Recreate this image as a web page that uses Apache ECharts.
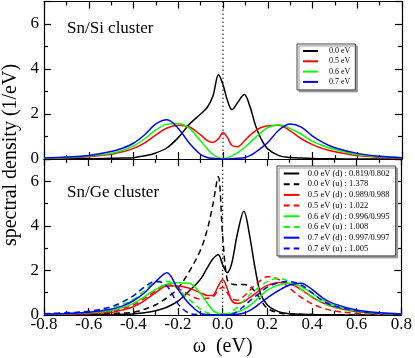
<!DOCTYPE html>
<html><head><meta charset="utf-8">
<script src="https://cdn.jsdelivr.net/npm/echarts@6/dist/echarts.min.js"></script>
<style>html,body{margin:0;padding:0;background:#fff}#c{width:415px;height:358px}</style>
</head><body><div id="c"></div>
<script>
// shared omega grid (eV)
const xs = [-0.8,-0.7,-0.6,-0.5,-0.45,-0.4,-0.35,-0.3,-0.25,-0.2,-0.15,-0.1,-0.07,-0.045,-0.02,0,0.02,0.04,0.065,0.095,0.12,0.145,0.17,0.2,0.25,0.3,0.35,0.4,0.45,0.5,0.6,0.7,0.8];

// Sn/Si cluster
const si00 = [0,0.01,0.01,0.03,0.04,0.06,0.14,0.27,0.5,0.95,1.55,2.0,2.3,2.8,3.75,3.3,2.6,2.2,2.5,2.87,2.35,1.5,0.9,0.45,0.15,0.07,0.04,0.02,0.01,0.01,0,0,0];
const si05 = [0.03,0.05,0.1,0.21,0.32,0.47,0.72,1.07,1.38,1.5,1.42,1.07,0.82,0.74,0.9,1.18,0.95,0.6,0.55,0.8,1.05,1.25,1.4,1.48,1.5,1.25,0.9,0.64,0.45,0.32,0.15,0.08,0.04];
const si06 = [0.04,0.07,0.13,0.25,0.38,0.58,0.9,1.29,1.55,1.58,1.36,0.8,0.45,0.2,0.06,0.02,0.05,0.14,0.28,0.5,0.72,0.95,1.18,1.4,1.52,1.35,1.1,0.78,0.58,0.42,0.2,0.1,0.05];
const si07 = [0.05,0.09,0.16,0.33,0.48,0.7,1.08,1.56,1.75,1.36,0.7,0.2,0.07,0.03,0.01,0,0,0.01,0.03,0.06,0.15,0.3,0.48,0.73,1.29,1.56,1.42,1.02,0.72,0.5,0.25,0.12,0.06];

// Sn/Ge cluster
const ge00d = [0,0.01,0.01,0.02,0.03,0.05,0.1,0.19,0.35,0.62,1.08,1.6,2.1,2.5,2.7,2.25,1.9,2.3,3.6,4.66,3.6,2.1,0.95,0.45,0.15,0.06,0.03,0.02,0.01,0.01,0,0,0];
const ge00u = [0.01,0.02,0.04,0.07,0.09,0.12,0.26,0.46,0.78,1.2,1.95,2.9,3.8,4.9,6.2,3.5,1.6,1.4,1.36,1.37,1.3,1.05,0.68,0.3,0.1,0.05,0.03,0.02,0.01,0.01,0,0,0];
const ge05d = [0.02,0.04,0.06,0.12,0.22,0.37,0.65,1.0,1.3,1.3,1.2,1.0,0.88,0.87,1.3,1.58,1.2,0.65,0.52,0.6,0.78,0.95,1.15,1.33,1.46,1.4,1.15,0.8,0.53,0.35,0.15,0.07,0.03];
const ge05u = [0.03,0.05,0.09,0.16,0.28,0.45,0.75,1.08,1.38,1.2,0.9,0.72,0.75,0.8,1.1,1.25,1.0,0.75,0.66,0.84,1.1,1.35,1.55,1.72,1.6,1.2,0.8,0.5,0.3,0.18,0.07,0.03,0.02];
const ge06d = [0.03,0.06,0.1,0.2,0.33,0.52,0.82,1.15,1.38,1.45,1.42,0.98,0.55,0.22,0.08,0.04,0.04,0.08,0.14,0.25,0.42,0.62,0.85,1.12,1.35,1.43,1.28,0.98,0.65,0.42,0.18,0.08,0.04];
const ge06u = [0.05,0.08,0.14,0.3,0.48,0.7,1.1,1.48,1.52,1.15,0.7,0.27,0.1,0.03,0.01,0,0.05,0.15,0.35,0.65,0.9,1.1,1.3,1.5,1.65,1.48,1.15,0.82,0.52,0.35,0.14,0.06,0.03];
const ge07d = [0.04,0.07,0.12,0.26,0.4,0.64,1.0,1.5,1.9,1.15,0.5,0.08,0.02,0.01,0,0,0,0.01,0.03,0.09,0.2,0.35,0.55,0.77,1.1,1.35,1.43,1.15,0.75,0.5,0.22,0.1,0.05];
const ge07u = [0.06,0.1,0.17,0.37,0.58,0.86,1.25,1.52,1.3,0.5,0.08,0.01,0,0,0,0,0.01,0.03,0.15,0.4,0.62,0.82,1.02,1.25,1.45,1.5,1.35,1.0,0.62,0.4,0.18,0.08,0.04];

const xTicks = [-0.8,-0.6,-0.4,-0.2,0.0,0.2,0.4,0.6,0.8];
const yTicks = [0,2,4,6];
const fermi = [[0,0],[0,7]];

const topNames = ['0.0 eV','0.5 eV','0.6 eV','0.7 eV'];
const botNames = ['0.0 eV (d) : 0.819/0.802','0.0 eV (u) : 1.378','0.5 eV (d) : 0.989/0.988','0.5 eV (u) : 1.022','0.6 eV (d) : 0.996/0.995','0.6 eV (u) : 1.008','0.7 eV (d) : 0.997/0.997','0.7 eV (u) : 1.005'];
const colors = ['#000000','#ff0000','#00ff00','#0000ff'];

const FONT = 'Liberation Serif';
const pairs = ys => xs.map((x,i)=>[x, ys[i]]);

function xAx(grid, pos, labels, name){
  return {type:'value', gridIndex:grid, position:pos, min:-0.8, max:0.8, interval:0.2,
    axisLine:{show:true, onZero:false, lineStyle:{color:'#000', width:1.2}},
    axisTick:{show:true, inside:true, length:7, lineStyle:{color:'#000', width:1.2}},
    minorTick:{show:true, splitNumber:2, length:4, lineStyle:{color:'#000', width:1.2}},
    splitLine:{show:false},
    axisLabel:{show:labels, margin:1, fontFamily:FONT, fontSize:17, color:'#000', formatter:v=>v.toFixed(1)},
    name: name||'', nameLocation:'middle', nameGap:22, nameTextStyle:{fontFamily:FONT, fontSize:20, color:'#000'}};
}
function yAx(grid, pos, labels){
  return {type:'value', gridIndex:grid, position:pos, min:0, max:7, interval:2,
    axisLine:{show:true, onZero:false, lineStyle:{color:'#000', width:1.2}},
    axisTick:{show:true, inside:true, length:7, lineStyle:{color:'#000', width:1.2}},
    minorTick:{show:true, splitNumber:2, length:4, lineStyle:{color:'#000', width:1.2}},
    splitLine:{show:false},
    axisLabel:{show:labels, margin:5, fontFamily:FONT, fontSize:17, color:'#000',
      formatter:v=> yTicks.indexOf(v)>=0 ? String(v) : ''}};
}

const series = [];
function addLine(name, ys, color, dashed, gi){
  series.push({type:'line', name:name, data:pairs(ys), xAxisIndex:gi*2, yAxisIndex:gi*2,
    showSymbol:false, symbol:'circle', symbolSize:0, smooth:0.35, animation:false,
    lineStyle:{color:color, width:1.5, type: dashed ? [6,4] : 'solid'},
    itemStyle:{color:color}, z:3});
}
[si00,si05,si06,si07].forEach((ys,i)=>addLine(topNames[i], ys, colors[i], false, 0));
[ge00d,ge00u,ge05d,ge05u,ge06d,ge06u,ge07d,ge07u].forEach((ys,i)=>addLine(botNames[i], ys, colors[i>>1], i%2===1, 1));
[0,1].forEach(gi=>series.push({type:'line', data:fermi, xAxisIndex:gi*2, yAxisIndex:gi*2, showSymbol:false, symbol:'none', animation:false, silent:true,
  lineStyle:{color:'#000', width:1, type:[1.5,2.5]}, z:2}));

const legendCommon = {orient:'vertical', backgroundColor:'#fff', borderColor:'#444', borderWidth:1,
  shadowColor:'#999', shadowOffsetX:2, shadowOffsetY:2, shadowBlur:0, selectedMode:false,
  itemStyle:{opacity:0, borderWidth:0}};

const chart = echarts.init(document.getElementById('c'), null, {renderer:'canvas'});
chart.setOption({
  animation:false,
  backgroundColor:'#fff',
  grid:[{left:44, top:1.5, width:358, height:157.5},{left:44, top:159, width:358, height:158.7}],
  xAxis:[xAx(0,'bottom',false), xAx(0,'top',false), xAx(1,'bottom',true,'ω  (eV)'), xAx(1,'top',false)],
  yAxis:[yAx(0,'left',true), yAx(0,'right',false), yAx(1,'left',true), yAx(1,'right',false)],
  legend:[
    Object.assign({data:topNames, left:297, top:44, padding:[3,5,4,5], itemWidth:15, itemHeight:8, itemGap:2.3,
     textStyle:{fontFamily:FONT, fontSize:8, color:'#000', padding:[0,0,0,6]}}, legendCommon),
    Object.assign({data:botNames, left:277, top:166, padding:[3,6,3,5.7], itemWidth:15.6, itemHeight:10, itemGap:1.7,
     textStyle:{fontFamily:FONT, fontSize:8.5, color:'#000', padding:[0,0,0,3.4]}}, legendCommon)
  ],
  graphic:[
    {type:'text', left:67, top:20, style:{text:'Sn/Si cluster', font:'17px "Liberation Serif"', fill:'#000'}},
    {type:'text', left:67, top:184, style:{text:'Sn/Ge cluster', font:'17px "Liberation Serif"', fill:'#000'}},
    {type:'text', x:11, y:155, rotation:Math.PI/2, style:{text:'spectral density (1/eV)', font:'20px "Liberation Serif"', fill:'#000', align:'center', verticalAlign:'middle'}}
  ],
  series:series
});
</script></body></html>
